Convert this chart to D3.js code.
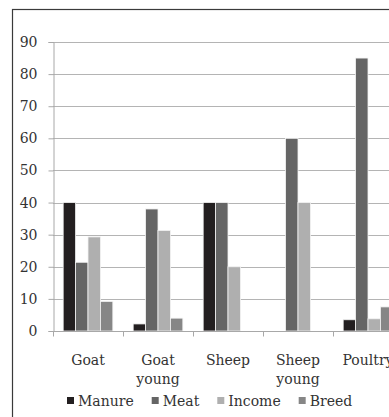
<!DOCTYPE html>
<html>
<head>
<meta charset="utf-8">
<script src="https://cdn.jsdelivr.net/npm/d3@7"></script>
<style>
  html, body { margin: 0; padding: 0; background: #fff; }
  svg { display: block; }
  text { font-family: "DejaVu Serif", serif; fill: #333; }
</style>
</head>
<body>
<div id="chart"></div>
<script>
// Livestock product uses by animal type (percent of respondents)
const categories = ["Goat", "Goat young", "Sheep", "Sheep young", "Poultry"];
const series = ["Manure", "Meat", "Income", "Breed"];
const manure = [40, 2.2, 40, 0, 3.5];
const meat   = [21.4, 38, 40, 60, 85];
const income = [29.3, 31.3, 20, 40, 3.8];
const breed  = [9.2, 4, 0, 0, 7.5];
const yTicks = [0, 10, 20, 30, 40, 50, 60, 70, 80, 90];
const colors = ["#231f20", "#656565", "#afafaf", "#868686"];

const values = [manure, meat, income, breed];
const W = 389, H = 417;

const svg = d3.select("#chart").append("svg")
  .attr("width", W).attr("height", H);

svg.append("rect").attr("width", W).attr("height", H).attr("fill", "#fff");

// outer frame (clipped by the window on the right and bottom)
svg.append("rect")
  .attr("x", 12.5).attr("y", 9.5)
  .attr("width", 600).attr("height", 600)
  .attr("fill", "none").attr("stroke", "#3a3a3a").attr("stroke-width", 1.2);

const x0 = d3.scaleBand().domain(categories).range([53, 403]).padding(0);
const x1 = d3.scaleBand().domain(series).range([0, x0.bandwidth()])
  .paddingInner(0).paddingOuter(0.82);
const y = d3.scaleLinear().domain([0, 90]).range([331, 42]);

// horizontal gridlines
svg.append("g").selectAll("line").data(yTicks.filter(d => d > 0)).join("line")
  .attr("x1", 53).attr("x2", W)
  .attr("y1", d => Math.round(y(d)) + 0.5).attr("y2", d => Math.round(y(d)) + 0.5)
  .attr("stroke", "#b4b4b4").attr("stroke-width", 1);

// bars
categories.forEach((c, i) => {
  const g = svg.append("g").attr("transform", `translate(${x0(c)},0)`);
  g.selectAll("rect").data(series.map((s, j) => ({ s, v: values[j][i], j })))
    .join("rect")
    .filter(d => d.v > 0)
    .attr("x", d => x1(d.s))
    .attr("width", x1.bandwidth())
    .attr("y", d => y(d.v))
    .attr("height", d => y(0) - y(d.v))
    .attr("fill", d => colors[d.j])
    .attr("stroke", "#f2f2f2").attr("stroke-width", 0.8);
});

// y axis
const yAxis = d3.axisLeft(y).tickValues(yTicks).tickSize(5).tickPadding(11);
const gy = svg.append("g").attr("transform", "translate(53.5,0)").call(yAxis);
gy.select(".domain").attr("stroke", "#a8a8a8");
gy.selectAll(".tick line").attr("stroke", "#a8a8a8");
gy.selectAll(".tick text").attr("font-size", 14).attr("font-family", "DejaVu Serif, serif").attr("fill", "#333");

// x axis
const gx = svg.append("g").attr("transform", `translate(0,${Math.round(y(0)) + 0.5})`);
gx.append("line").attr("x1", 53).attr("x2", W).attr("stroke", "#a8a8a8");
gx.selectAll("line.tk").data(categories).join("line").attr("class", "tk")
  .attr("x1", d => Math.round(x0(d)) + 0.5).attr("x2", d => Math.round(x0(d)) + 0.5)
  .attr("y1", 0).attr("y2", 5).attr("stroke", "#a8a8a8");

// category labels (wrapped onto two lines where needed)
const labels = svg.append("g").selectAll("text").data(categories).join("text")
  .attr("text-anchor", "middle").attr("font-size", 14)
  .attr("y", 365);
labels.each(function (d) {
  const words = d.split(" ");
  const t = d3.select(this);
  words.forEach((w, k) => {
    t.append("tspan").attr("x", x0(d) + x0.bandwidth() / 2)
      .attr("dy", k === 0 ? 0 : 19).text(w);
  });
});

// legend
const legend = svg.append("g");
let lx = 67;
series.forEach((s, j) => {
  legend.append("rect").attr("x", lx).attr("y", 397).attr("width", 7).attr("height", 7)
    .attr("fill", colors[j]);
  const t = legend.append("text").attr("x", lx + 11).attr("y", 406)
    .attr("font-size", 14).text(s);
  lx += 11 + t.node().getComputedTextLength() + 18;
});
</script>
</body>
</html>
